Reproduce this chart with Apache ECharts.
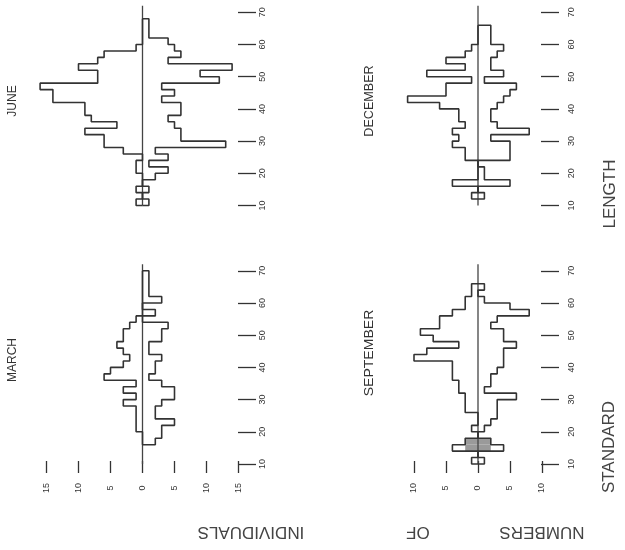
<!DOCTYPE html>
<html><head><meta charset="utf-8">
<script src="https://cdn.jsdelivr.net/npm/echarts@6/dist/echarts.min.js"></script>
<style>html,body{margin:0;padding:0;background:#fff}#c{width:625px;height:550px}</style>
</head><body><div id="c"></div><script>
// ---- data (bins of 2 length units) ----
const binWidth = 2;
const lengthTicks = [10, 20, 30, 40, 50, 60, 70];
const countTicksMarch = [-15, -10, -5, 0, 5, 10, 15];
const countTicksSept = [-10, -5, 0, 5, 10];
const zeroLineRange = [10, 72];

const marchStart = 16;
const marchLeft  = [0,0,1,1,1,1,3,1,3,1,6,5,3,2,3,4,3,3,2,1,0,0,0,0,0,0,0];
const marchRight = [2,3,3,5,2,2,3,5,5,3,1,2,2,3,1,1,3,3,4,0,2,0,3,1,1,1,1];

const juneStart = 10;
const juneLeft  = [1,0,1,0,0,1,1,0,3,6,6,9,4,8,9,9,14,14,16,7,7,10,7,6,1,0,0,0,0];
const juneRight = [1,0,1,0,2,4,1,4,2,13,6,6,5,4,6,6,3,5,3,12,9,14,4,6,5,4,1,1,1];

const septStart = 10;
const septLeft  = [1,0,4,2,0,1,0,0,2,2,2,3,3,4,4,4,10,8,3,7,9,6,6,4,2,2,1,1];
const septRight = [1,0,4,2,0,1,2,3,3,3,6,1,2,2,3,4,4,4,6,4,4,2,3,8,5,1,0,1];
const septShadeStart = 14;
const septShadeLeft  = [2,2];
const septShadeRight = [2,2];

const decStart = 12;
const decLeft  = [1,0,4,0,0,0,2,2,4,3,4,2,3,3,6,11,5,5,1,8,2,5,2,1,0,0,0];
const decRight = [1,0,5,1,1,0,5,5,5,2,8,3,2,2,3,4,5,6,1,4,2,2,3,4,2,2,2];

// ---- layout ----
const ink = '#333';
const fam = '"Liberation Sans", Arial, sans-serif';
const colZeroX = [142.5, 478];
const rowTen = [205.5, 464];
const pxLen = 3.22, pxCnt = 6.4;
const lenMin = 9, lenMax = 73, cntMin = -20, cntMax = 20;
const lenAxisX = [238, 541];
const lenLabelGap = [25, 31];
const cntAxisY = 461;

const panels = [
  {title:'JUNE', start:juneStart, left:juneLeft, right:juneRight, col:0, row:0, cnt:null, tpos:[13,101], sx:1},
  {title:'DECEMBER', start:decStart, left:decLeft, right:decRight, col:1, row:0, cnt:null, tpos:[370,101], sx:1.05},
  {title:'MARCH', start:marchStart, left:marchLeft, right:marchRight, col:0, row:1, cnt:countTicksMarch, tpos:[13,360], sx:1},
  {title:'SEPTEMBER', start:septStart, left:septLeft, right:septRight, col:1, row:1, cnt:countTicksSept, tpos:[370,353], sx:1.17}
];

function stepPoints(start, counts, sign) {
  const pts = [[0, start]];
  counts.forEach((c, i) => {
    const lo = start + i * binWidth, hi = lo + binWidth;
    pts.push([sign * c, lo], [sign * c, hi]);
  });
  pts.push([0, start + counts.length * binWidth]);
  return pts;
}

const grid = [], xAxis = [], yAxis = [], series = [], graphic = [];
panels.forEach((p, i) => {
  const zx = colZeroX[p.col], y10 = rowTen[p.row];
  const gLeft = zx + cntMin * pxCnt, gWidth = (cntMax - cntMin) * pxCnt;
  const gTop = y10 - (lenMax - 10) * pxLen, gHeight = (lenMax - lenMin) * pxLen;
  grid.push({left:gLeft, top:gTop, width:gWidth, height:gHeight, containLabel:false, outerBoundsMode:'none'});
  xAxis.push({
    gridIndex:i, type:'value', min:cntMin, max:cntMax, position:'bottom',
    show: !!p.cnt, offset: cntAxisY - (gTop + gHeight),
    axisLine:{show:false, onZero:false}, splitLine:{show:false},
    axisTick:{show:true, length:12, customValues:p.cnt || [0], lineStyle:{color:ink, width:1.3}},
    axisLabel:{customValues:p.cnt || [0], rotate:90, margin:27, align:'center', verticalAlign:'middle',
      formatter:v => String(Math.abs(v)), fontSize:9, color:ink, fontFamily:fam}
  });
  yAxis.push({
    gridIndex:i, type:'value', min:lenMin, max:lenMax, position:'right',
    offset: lenAxisX[p.col] - (gLeft + gWidth),
    axisLine:{show:false, onZero:false}, splitLine:{show:false},
    axisTick:{show:true, length:18, customValues:lengthTicks, lineStyle:{color:ink, width:1.3}},
    axisLabel:{customValues:lengthTicks, rotate:90, margin:lenLabelGap[p.col], align:'center', verticalAlign:'middle',
      fontSize:9, color:ink, fontFamily:fam}
  });
  if (p.title === 'SEPTEMBER') {
    series.push({
      type:'custom', xAxisIndex:i, yAxisIndex:i, silent:true,
      data: septShadeLeft.map((l, k) => [septShadeStart + k * binWidth, septShadeStart + (k + 1) * binWidth, l, septShadeRight[k]]),
      renderItem:(params, api) => {
        const a = api.coord([-api.value(2), api.value(1)]);
        const b = api.coord([api.value(3), api.value(0)]);
        return {type:'rect', shape:{x:a[0], y:a[1], width:b[0]-a[0], height:b[1]-a[1]}, style:{fill:'#9a9a9a'}};
      }
    });
  }
  const ls = {color:ink, width:1.6};
  series.push({type:'line', xAxisIndex:i, yAxisIndex:i, symbol:'none', silent:true,
    data: zeroLineRange.map(v => [0, v]), lineStyle:{color:'#444', width:1.3}});
  series.push({type:'line', xAxisIndex:i, yAxisIndex:i, symbol:'none', silent:true,
    data: stepPoints(p.start, p.left, -1), lineStyle:ls});
  series.push({type:'line', xAxisIndex:i, yAxisIndex:i, symbol:'none', silent:true,
    data: stepPoints(p.start, p.right, 1), lineStyle:ls});
  graphic.push({type:'text', x:p.tpos[0], y:p.tpos[1], rotation:Math.PI/2, scaleX:p.sx,
    style:{text:p.title, font:'12px ' + fam, fill:ink, align:'center', verticalAlign:'middle', textAlign:'center', textVerticalAlign:'middle'}});
});

function bigText(t, x, y, rot) {
  return {type:'text', x:x, y:y, rotation:rot,
    style:{text:t, font:'17px ' + fam, fill:'#444', align:'center', verticalAlign:'middle', textAlign:'center', textVerticalAlign:'middle'}};
}
graphic.push(bigText('LENGTH', 610, 194, Math.PI/2));
graphic.push(bigText('STANDARD', 609, 447, Math.PI/2));
graphic.push(bigText('NUMBERS', 542, 532, Math.PI));
graphic.push(bigText('OF', 418, 532, Math.PI));
graphic.push(bigText('INDIVIDUALS', 251, 532, Math.PI));

const chart = echarts.init(document.getElementById('c'), null, {renderer:'canvas', devicePixelRatio:1});
chart.setOption({animation:false, backgroundColor:'#fff', grid, xAxis, yAxis, series, graphic});
</script></body></html>
